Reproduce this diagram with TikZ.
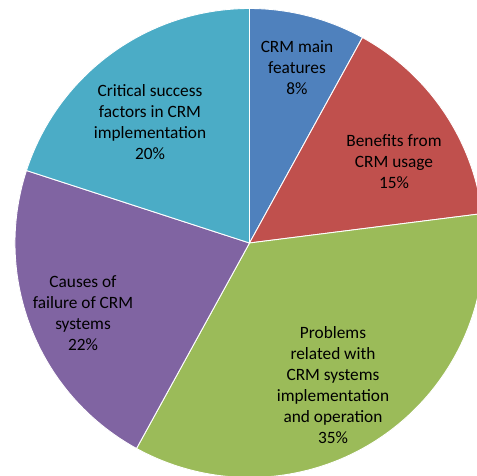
\documentclass[tikz,border=0pt]{standalone}
\usepackage{fontspec}
\setmainfont{Carlito}
\begin{document}
\begin{tikzpicture}[x=1pt,y=1pt,
  slice/.style={draw=white, line width=0.9pt, line join=round},
  lbl/.style={align=center, inner sep=0pt, text=black, font=\fontsize{17.3}{21}\selectfont}]
\definecolor{cblue}{HTML}{4F81BD}
\definecolor{cred}{HTML}{C0504D}
\definecolor{cgreen}{HTML}{9BBB59}
\definecolor{cpurple}{HTML}{8064A2}
\definecolor{caqua}{HTML}{4BACC6}
\useasboundingbox (0,0) rectangle (477,476);
\fill[white] (0,0) rectangle (477,476);
\clip (0,0) rectangle (477,476);
\coordinate (c) at (249.5,233);
\def\R{234.5}
\filldraw[slice, fill=cblue]   (c) -- ([shift={(90:\R)}]c) arc[start angle=90, end angle=61.2, radius=\R] -- cycle;
\filldraw[slice, fill=cred]    (c) -- ([shift={(61.2:\R)}]c) arc[start angle=61.2, end angle=7.2, radius=\R] -- cycle;
\filldraw[slice, fill=cgreen]  (c) -- ([shift={(7.2:\R)}]c) arc[start angle=7.2, end angle=-118.8, radius=\R] -- cycle;
\filldraw[slice, fill=cpurple] (c) -- ([shift={(-118.8:\R)}]c) arc[start angle=-118.8, end angle=-198, radius=\R] -- cycle;
\filldraw[slice, fill=caqua]   (c) -- ([shift={(162:\R)}]c) arc[start angle=162, end angle=90, radius=\R] -- cycle;
\node[lbl] (l1) at (297,408) {CRM main\\features\\8\%};
\node[lbl] (l2) at (394,314) {Benefits from\\CRM usage\\15\%};
\node[lbl] (l3) at (333,91) {Problems\\related with\\CRM systems\\implementation\\and operation\\35\%};
\node[lbl] (l4) at (83,163) {Causes of\\failure of CRM\\systems\\22\%};
\node[lbl] (l5) at (150,354) {Critical success\\factors in CRM\\implementation\\20\%};
\end{tikzpicture}
\end{document}
